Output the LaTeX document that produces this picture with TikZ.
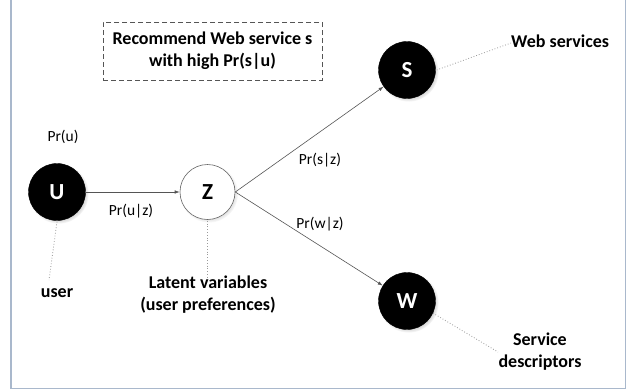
\documentclass[tikz,border=0pt]{standalone}
\usepackage{fontspec}
\setmainfont{Carlito}
\usetikzlibrary{arrows.meta,shadows}
\definecolor{framec}{HTML}{A9B8CC}
\definecolor{linec}{HTML}{555555}
\definecolor{dotc}{HTML}{9A9A9A}
\tikzset{
  blacknode/.style={circle, fill=black, draw=black, minimum size=57pt, inner sep=0pt,
    text=white, font=\fontsize{23}{26}\selectfont\bfseries,
    circular drop shadow={shadow scale=1.06, opacity=0.35}},
  whitenode/.style={circle, fill=white, draw=gray!80!black, line width=0.6pt, minimum size=55pt, inner sep=0pt,
    text=black, font=\fontsize{23}{26}\selectfont\bfseries,
    circular drop shadow={shadow scale=1.06, opacity=0.25}},
  problabel/.style={font=\fontsize{15.5}{18}\selectfont, text=black, inner sep=0pt},
  desclabel/.style={font=\fontsize{18}{22}\selectfont\bfseries, text=black, inner sep=0pt, align=center},
  arrowline/.style={draw=linec, line width=0.6pt, -{Latex[length=5pt,width=3.5pt]}},
  dotline/.style={draw=dotc, line width=0.8pt, dotted},
}
\begin{document}
\begin{tikzpicture}[x=1pt,y=-1pt]
\useasboundingbox (0,0) rectangle (631,391);
\fill[white] (0,0) rectangle (631,391);
\draw[framec, line width=1.6pt] (11,-2) -- (11,388.5) -- (625.5,388.5) -- (625.5,-2);

\node[draw=linec, dash pattern=on 5pt off 3pt, line width=0.8pt, minimum width=219pt, minimum height=58pt, inner sep=0pt,
  font=\fontsize{18}{22}\selectfont\bfseries, align=center] (rec) at (212.5,51) {Recommend Web service s\\with high Pr(s|u)};

\node[blacknode] (U) at (57,192) {U};
\node[whitenode] (Z) at (207.5,192) {Z};
\node[blacknode] (S) at (407,70) {S};
\node[blacknode] (W) at (407,301) {W};

\draw[arrowline] (U) -- (Z);
\draw[arrowline] (Z.east) -- (S);
\draw[arrowline] (Z.east) -- (W);

\node[problabel] (pu) at (63,137) {Pr(u)};
\node[problabel] (puz) at (131,211) {Pr(u|z)};
\node[problabel] (psz) at (320,160) {Pr(s|z)};
\node[problabel] (pwz) at (320,224) {Pr(w|z)};

\node[desclabel] (user) at (57,293) {user};
\node[desclabel] (latent) at (208,295) {Latent variables\\(user preferences)};
\node[desclabel, anchor=west] (web) at (511,41) {Web services};
\node[desclabel] (sd) at (540,352) {Service\\descriptors};

\coordinate (userend) at (49,280);
\coordinate (latentend) at (207.5,277);
\coordinate (webend) at (511,43);
\coordinate (sdend) at (498,352);
\draw[dotline] (U.south) ++(0,1) -- (userend);
\draw[dotline] (Z.south) ++(0,1) -- (latentend);
\draw[dotline] (S.east) ++(1,0) -- (webend);
\draw[dotline] (W.-25) -- (sdend);
\end{tikzpicture}
\end{document}
